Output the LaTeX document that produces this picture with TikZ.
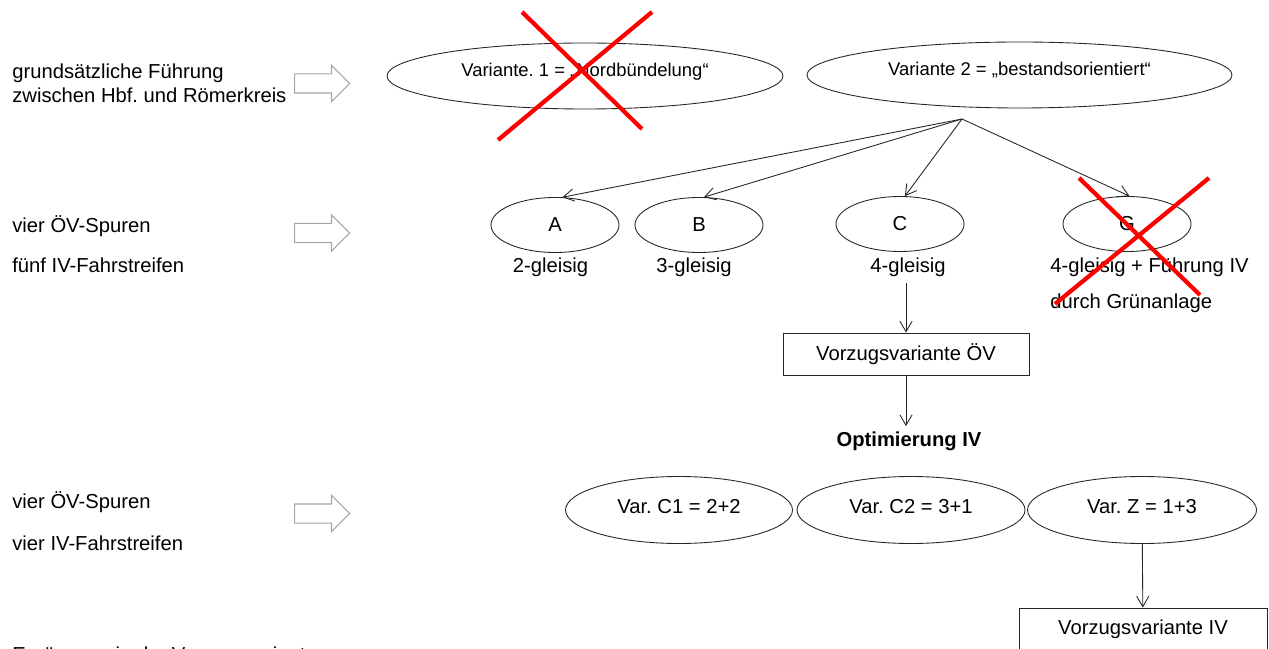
\documentclass[tikz,border=0pt]{standalone}
\usepackage{fontspec}
\setmainfont{Liberation Sans}
\usepackage{tikz}
\usetikzlibrary{arrows.meta,positioning,shapes.geometric,shapes.arrows}
\frenchspacing

\begin{document}
\begin{tikzpicture}[
  every node/.style={font=\fontsize{11.5}{14}\selectfont},
  ell/.style={ellipse, draw=black!85, line width=0.5pt, inner sep=0pt},
  topell/.style={ell, font=\fontsize{10.5}{12}\selectfont, minimum height=1.32cm, text height=8.5pt, text depth=7.8pt},
  varell/.style={ell, minimum height=1.34cm, text height=9pt, text depth=5.4pt},
  spurell/.style={ell, minimum width=2.56cm, minimum height=1.1cm},
  bigarrow/.style={single arrow, draw=gray!70, line width=0.6pt, minimum height=1.1cm, single arrow head extend=0.17cm, inner sep=0.18cm, anchor=tail},
  conn/.style={draw=black!85, line width=0.5pt, -{Straight Barb[length=6pt,width=7pt]}},
  cross/.style={draw=red, line width=2.4pt},
  sidetext/.style={anchor=base west, inner sep=0pt},
  prefbox/.style={rectangle, draw=black!85, line width=0.5pt, minimum height=0.84cm}
]
  \useasboundingbox (0,0) rectangle (25.38,12.96);

  % left column
  \node[sidetext, align=left, font=\fontsize{11.5}{14.2}\selectfont] (t1) at (0.24,10.90) {grundsätzliche Führung\\zwischen Hbf. und Römerkreis};
  \node[sidetext] (t2a) at (0.24,8.30) {vier ÖV-Spuren};
  \node[sidetext] (t2b) at (0.24,7.50) {fünf IV-Fahrstreifen};
  \node[sidetext] (t3a) at (0.24,2.80) {vier ÖV-Spuren};
  \node[sidetext] (t3b) at (0.24,1.96) {vier IV-Fahrstreifen};
  \node[sidetext] (t4) at (0.24,-0.27) {Ergänzung in der Vorzugsvariante};

  \node[bigarrow] (pf1) at (5.88,11.29) {};
  \node[bigarrow] (pf2) at (5.88,8.30) {};
  \node[bigarrow] (pf3) at (5.88,2.69) {};

  % variants
  \node[topell, minimum width=7.92cm] (v1) at (11.70,11.44) {Variante. 1 = „Nordbündelung“};
  \node[topell, minimum width=8.50cm] (v2) at (20.39,11.46) {Variante 2 = „bestandsorientiert“};
  \coordinate (br) at (19.24,10.58);

  \node[spurell] (vA) at (11.10,8.46) {A};
  \node[spurell] (vB) at (13.98,8.46) {B};
  \node[spurell] (vC) at (18.00,8.48) {C};
  \node[spurell] (vG) at (22.54,8.48) {G};

  \node[anchor=base] (lA) at (11.01,7.50) {2-gleisig};
  \node[anchor=base] (lB) at (13.88,7.50) {3-gleisig};
  \node[anchor=base] (lC) at (18.16,7.50) {4-gleisig};
  \node[sidetext] (lG1) at (21.00,7.50) {4-gleisig + Führung IV};
  \node[sidetext] (lG2) at (21.00,6.78) {durch Grünanlage};

  \draw[conn] (br) -- (vA.75);
  \draw[conn] (br) -- (vB.80);
  \draw[conn] (br) -- (vC.80);
  \draw[conn] (br) -- (vG.85);

  \node[prefbox, minimum width=4.92cm] (ovbox) at (18.12,5.88) {Vorzugsvariante ÖV};
  \node[anchor=base, font=\fontsize{11.5}{14}\selectfont\bfseries] (opt) at (18.18,4.02) {Optimierung IV};
  \draw[conn] (lC.south -| ovbox.north) -- (ovbox.north);
  \draw[conn] (ovbox) -- (opt.north -| ovbox);

  \node[varell, minimum width=4.54cm] (c1) at (13.58,2.76) {Var. C1 = 2+2};
  \node[varell, minimum width=4.56cm] (c2) at (18.22,2.76) {Var. C2 = 3+1};
  \node[varell, minimum width=4.58cm] (cz) at (22.84,2.76) {Var. Z = 1+3};

  \node[prefbox, minimum width=4.96cm] (ivbox) at (22.86,0.38) {Vorzugsvariante IV};
  \draw[conn] (cz) -- (ivbox);

  % crossed out
  \draw[cross] (10.44,12.72) -- (12.84,10.38);
  \draw[cross] (13.04,12.72) -- (9.96,10.16);
  \draw[cross] (21.58,9.40) -- (24.00,7.06);
  \draw[cross] (24.18,9.40) -- (21.10,6.88);
\end{tikzpicture}
\end{document}
